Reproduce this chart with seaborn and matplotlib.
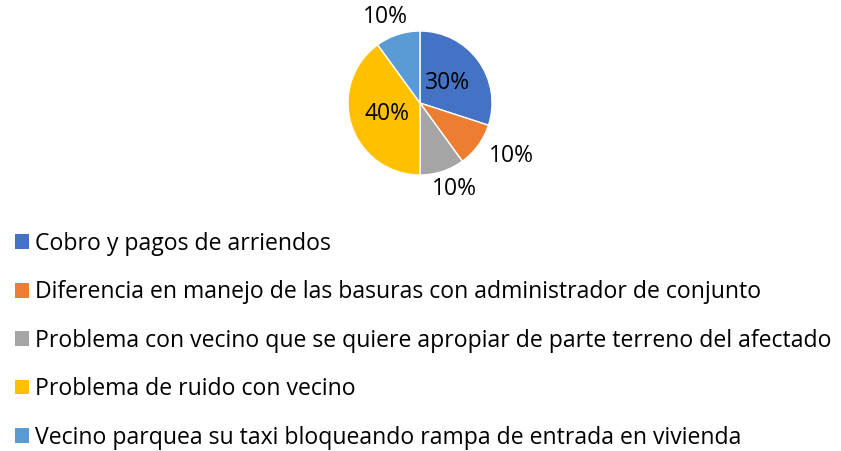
import matplotlib
matplotlib.use("Agg")
import matplotlib.pyplot as plt
import matplotlib.patches as mpatches
import numpy as np
import seaborn as sns

sns.set_style("white")
plt.rcParams["font.family"] = ["Open Sans", "DejaVu Sans"]
plt.rcParams["text.color"] = "black"

# data
categories = [
    "Cobro y pagos de arriendos",
    "Diferencia en manejo de las basuras con administrador de conjunto",
    "Problema con vecino que se quiere apropiar de parte terreno del afectado",
    "Problema de ruido con vecino",
    "Vecino parquea su taxi bloqueando rampa de entrada en vivienda",
]
shares = [30, 10, 10, 40, 10]
colors = ["#4472C4", "#ED7D31", "#A5A5A5", "#FFC000", "#5B9BD5"]

W, H = 841, 451
fig = plt.figure(figsize=(W / 100, H / 100), dpi=100)

# pie axes: centre ~ (420, 103) px, radius ~ 72 px
cx, cy, r = 420, 103, 72
ax = fig.add_axes([(cx - r) / W, (H - cy - r) / H, 2 * r / W, 2 * r / H])

wedges, _ = ax.pie(
    shares,
    colors=colors,
    startangle=90,
    counterclock=False,
    radius=1,
    wedgeprops=dict(edgecolor="white", linewidth=1),
)
ax.set_xlim(-1, 1)
ax.set_ylim(-1, 1)
ax.set_aspect("equal")
ax.axis("off")

# percentage labels: inside for big slices, outside-end for small ones
half_w, half_h = 24 / r, 11 / r   # half label size in radius units
for w, v in zip(wedges, shares):
    mid = np.deg2rad((w.theta1 + w.theta2) / 2)
    c, s = np.cos(mid), np.sin(mid)
    if v >= 30:
        x, y = 0.48 * c, 0.48 * s
    else:
        x = 1.1 * c + half_w * c * 1.4
        y = 1.1 * s + half_h * s
    ax.text(x, y, f"{v}%", ha="center", va="center", fontsize=16.5,
            color="black", clip_on=False)

handles = [mpatches.Patch(facecolor=c, edgecolor="none") for c in colors]
fig.legend(
    handles, categories,
    loc="upper left",
    bbox_to_anchor=(8 / W, 1 - 225 / H),
    frameon=False,
    fontsize=16.6,
    handlelength=0.6,
    handleheight=0.6,
    handletextpad=0.28,
    labelspacing=1.06,
    borderaxespad=0,
    borderpad=0.3,
)

fig.savefig("out.png", dpi=100)
